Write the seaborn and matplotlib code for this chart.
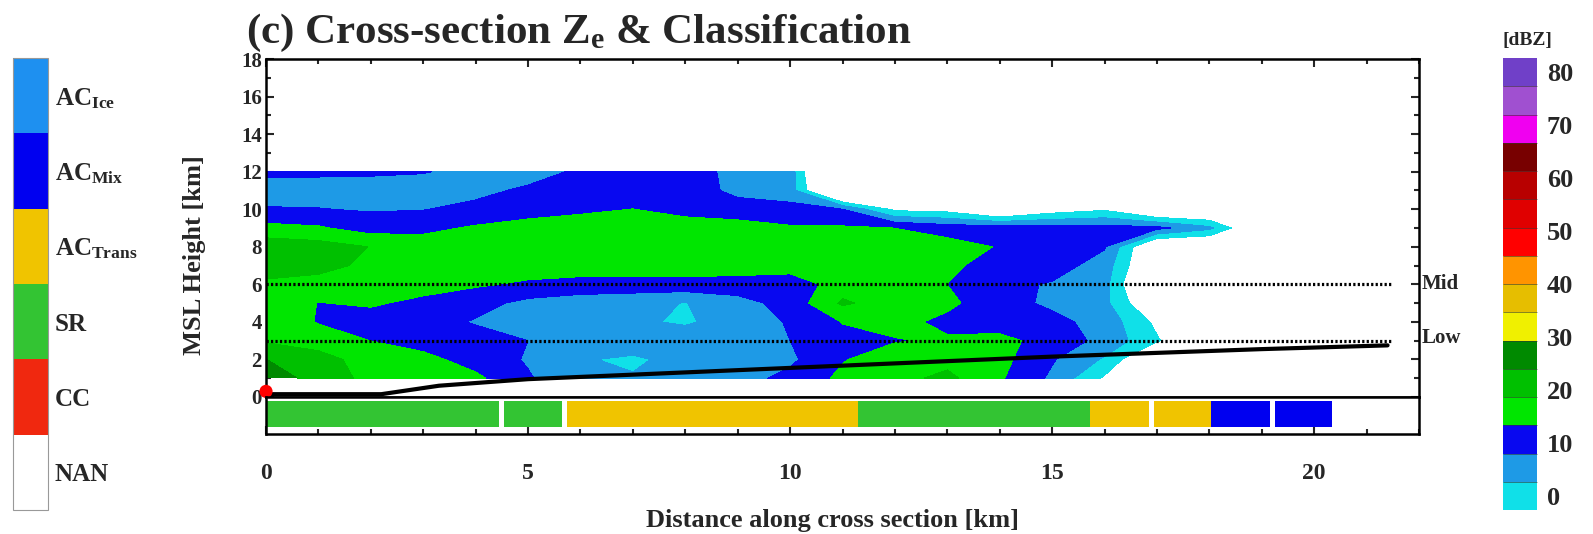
import numpy as np
import matplotlib
matplotlib.use('Agg')
import matplotlib.pyplot as plt
import matplotlib.cm as cm
from matplotlib.colors import ListedColormap, BoundaryNorm
import seaborn as sns

# ---------------- data ----------------
# reflectivity grid: columns = distance [km], rows = MSL height [km] (top row first)
dist_km = [0, 1, 2, 3, 4, 5, 6, 7, 8, 9, 10, 11, 12, 13, 14, 15, 16, 17, 18, 19]
height_km = [12, 11, 10, 9, 8, 7, 6, 5, 4, 3, 2, 1]
O = -12  # no echo
dbz = [
    [9, 9, 8.8, 8.3, 6.5, 5.5, 9, 10.5, 11, 6, 5.5, -25, O, O, O, O, O, O, O, O],
    [5.5, 5.5, 5.5, 5.5, 6.5, 9, 10.5, 11, 11, 6.5, 5.5, -20, O, O, O, O, O, O, O, O],
    [8.4, 8.2, 7.5, 7.8, 9.5, 11, 12, 13.4, 11.5, 10.5, 9.5, 8, -4, -5, O, -6, -3.5, O, O, O],
    [15, 14, 11, 12, 14, 15.5, 17, 17.5, 16, 15.5, 14, 14, 13.3, 11, 10.5, 10, 10, 9.5, 4, O],
    [22, 21, 18.5, 16, 16, 16, 16, 16, 16, 16, 16, 16, 16, 15.5, 13, 11, 8.5, O, O, O],
    [23, 21, 17, 16, 16, 16, 16, 16, 16, 16, 16, 16.5, 17, 14.5, 11, 10.5, 5.5, O, O, O],
    [17, 16, 16, 15.5, 14, 12.5, 11.5, 11.5, 11.5, 11, 10, 16, 16, 13.3, 9.5, 7.5, 4.5, -16, O, O],
    [17, 13.2, 14, 12, 10, 6.5, 5, 4, 2.5, 6, 10, 19.5, 16, 14.5, 10, 7, 4, -10, O, O],
    [17, 13, 11, 10.5, 7.5, 5.5, 4, 3.5, 2, 5, 8.5, 13.5, 15, 12, 10.5, 9.5, 6, -4, O, O],
    [18, 16, 13.3, 11, 10.5, 8, 5, 5, 5.5, 6, 8, 12, 13, 14, 15, 11, 6.5, -2, O, O],
    [24, 21, 16, 15, 11, 7.5, 3, 2, 4, 5.5, 7, 13, 16, 17, 15, 8.5, 2, O, O, O],
    [27, 22, 17, 16, 14.5, 8.5, 4, 3, 5, 6, 9.5, 14.5, 17, 20, 14, 7, -3.5, O, O, O],
]

terrain_x = [0, 2.2, 3.3, 5, 7.5, 10, 12.5, 15, 17, 19, 21.4]
terrain_h = [0.15, 0.15, 0.6, 0.95, 1.25, 1.55, 1.85, 2.15, 2.35, 2.55, 2.75]
radar_x = [0]
radar_h = [0.3]

level_h = [6, 3]
level_names = ['Mid', 'Low']
level_span = [0, 21.5]

# classification along the cross section
class_edges = [0, 4.45, 4.55, 5.65, 5.75, 11.3, 15.73, 16.85, 16.95, 18.04, 19.15, 19.25, 20.34, 22]
class_codes = [2, 0, 2, 0, 3, 2, 3, 0, 3, 4, 0, 4, 0]
class_labels = ['NAN', 'CC', 'SR', r'AC$_{\mathrm{Trans}}$', r'AC$_{\mathrm{Mix}}$', r'AC$_{\mathrm{Ice}}$']
class_colors = ['#FFFFFF', '#F0280F', '#33C433', '#F0C400', '#0000F0', '#1E90F0']

dbz_colors = ['#10E0E8', '#1E9AE6', '#0808F0', '#00E600', '#00C000', '#008A00',
              '#F0F000', '#E6BE00', '#FF9400', '#FF0000', '#E00000', '#B80000',
              '#780000', '#F000F0', '#A050D0', '#7040C8']
dbz_ticks = [0, 10, 20, 30, 40, 50, 60, 70, 80]

# ---------------- style ----------------
sns.set_theme(style='ticks')
plt.rcParams['font.family'] = ['Liberation Serif', 'DejaVu Serif']
plt.rcParams['font.weight'] = 'bold'
plt.rcParams['axes.labelweight'] = 'bold'
plt.rcParams['mathtext.fontset'] = 'custom'
plt.rcParams['mathtext.rm'] = 'Liberation Serif:bold'
plt.rcParams['mathtext.it'] = 'Liberation Serif:bold'
plt.rcParams['mathtext.bf'] = 'Liberation Serif:bold'

W, H = 1593, 534
fig = plt.figure(figsize=(W / 100, H / 100), dpi=100)
ax = fig.add_axes([266 / W, 1 - 397 / H, (1419 - 266) / W, (397 - 59) / H])
axc = fig.add_axes([266 / W, 1 - 434 / H, (1419 - 266) / W, (434 - 397) / H], sharex=ax)
cax_l = fig.add_axes([13 / W, 1 - 510 / H, 35 / W, 452 / H])
cax_r = fig.add_axes([1503 / W, 1 - 510 / H, 34 / W, 452 / H])

# reflectivity colour scale: 16 cells centred on 0 ... 80
half = 80 / 30
bounds = np.linspace(-half, 80 + half, 17)
cmap = ListedColormap(dbz_colors)
norm = BoundaryNorm(bounds, cmap.N)

Z = np.flipud(np.array(dbz, dtype=float))
Hk = np.flipud(np.array(height_km, dtype=float))
ax.contourf(dist_km, Hk, Z, levels=bounds, cmap=cmap, norm=norm)

for h, name in zip(level_h, level_names):
    ax.plot(level_span, [h, h], color='black', lw=2.3, ls=(0, (0.7, 0.7)))
    ax.text(22.05, h + (0.15 if name == 'Low' else 0), name, fontsize=15,
            fontweight='bold', va='center', ha='left', clip_on=False)

sns.lineplot(x=terrain_x, y=terrain_h, ax=ax, color='black', lw=3, zorder=5)
sns.scatterplot(x=radar_x, y=radar_h, ax=ax, color='red', s=90, edgecolor='none',
                zorder=6, clip_on=False)

ax.set_xlim(0, 22)
ax.set_ylim(0, 18)
ax.set_yticks(range(0, 19, 2))
ax.set_yticks(range(0, 19), minor=True)
ax.set_xticks(range(0, 23, 5))
ax.set_xticks(range(0, 23), minor=True)
ax.tick_params(axis='y', which='both', direction='in', left=True, right=True,
               labelsize=15, pad=3, width=1.5)
ax.tick_params(axis='y', which='major', length=6)
ax.tick_params(axis='y', which='minor', length=3.5)
ax.tick_params(axis='x', which='both', direction='in', top=True, bottom=False,
               labelbottom=False, width=1.5)
ax.tick_params(axis='x', which='major', length=6)
ax.tick_params(axis='x', which='minor', length=3.5)
for s in ax.spines.values():
    s.set_linewidth(1.8)
    s.set_color('black')
ax.set_xlabel('')
ax.set_ylabel('')

# classification strip
ccmap = ListedColormap(class_colors)
cnorm = BoundaryNorm(np.arange(-0.5, 6.5, 1), ccmap.N)
axc.pcolormesh(class_edges, [0.2, 0.9], np.array([class_codes]), cmap=ccmap, norm=cnorm)
axc.set_ylim(0, 1)
axc.set_yticks([])
axc.tick_params(axis='x', which='both', direction='in', bottom=True, top=False,
                labelsize=17, pad=21, width=1.5)
axc.tick_params(axis='x', which='major', length=6)
axc.tick_params(axis='x', which='minor', length=3.5)
for s in axc.spines.values():
    s.set_linewidth(1.8)
    s.set_color('black')

# legends
cb1 = fig.colorbar(cm.ScalarMappable(norm=cnorm, cmap=ccmap), cax=cax_l, ticks=range(6))
cb1.ax.set_yticklabels(class_labels)
cb1.ax.minorticks_off()
cb1.ax.tick_params(which='both', length=0, pad=5, labelsize=18)
cb1.outline.set_edgecolor('#999999')
cb1.outline.set_linewidth(0.8)

cb2 = fig.colorbar(cm.ScalarMappable(norm=norm, cmap=cmap), cax=cax_r, ticks=dbz_ticks,
                   drawedges=True)
cb2.ax.minorticks_off()
cb2.dividers.set_color('#333333')
cb2.dividers.set_linewidth(0.4)
cb2.outline.set_linewidth(0)
cb2.ax.tick_params(which='both', length=0, pad=7, labelsize=19)

fig.text(246 / W, 1 - 33 / H, r'(c) Cross-section Z$_{\mathrm{e}}$ & Classification',
         fontsize=31, fontweight='bold', va='center', ha='left')
fig.text(1527 / W, 1 - 41 / H, '[dBZ]', fontsize=14, fontweight='bold', va='center', ha='center')
fig.text(195 / W, 1 - 255 / H, 'MSL Height [km]', fontsize=19, fontweight='bold',
         rotation=90, va='center', ha='center')
fig.text(833 / W, 1 - 527 / H, 'Distance along cross section [km]', fontsize=19,
         fontweight='bold', va='baseline', ha='center')

fig.savefig('out.png', dpi=100)
